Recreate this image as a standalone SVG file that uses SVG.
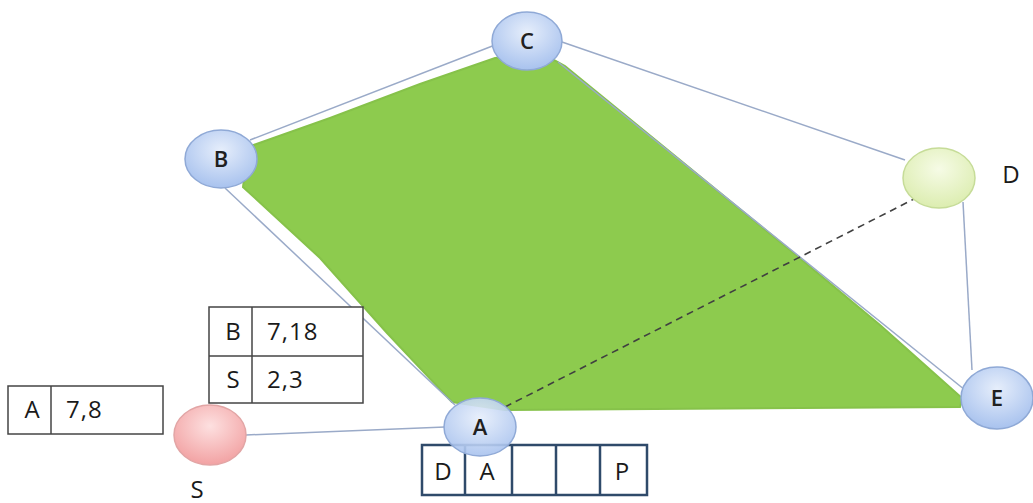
<svg xmlns="http://www.w3.org/2000/svg" width="1033" height="503" viewBox="0 0 1033 503">
<defs>
<radialGradient id="gb" cx="50%" cy="35%" r="65%"><stop offset="0" stop-color="#e6eefb"/><stop offset="1" stop-color="#a8c2ee"/></radialGradient>
<radialGradient id="gs" cx="50%" cy="35%" r="65%"><stop offset="0" stop-color="#fde0e0"/><stop offset="1" stop-color="#f2a2a3"/></radialGradient>
<radialGradient id="gd" cx="50%" cy="35%" r="65%"><stop offset="0" stop-color="#f6fbe6"/><stop offset="1" stop-color="#dcedb0"/></radialGradient>
<style>
.edge{stroke:#9aaac8;stroke-width:1.5;fill:none}
.dash{stroke:#404040;stroke-width:1.6;stroke-dasharray:7,5;fill:none}
.nb{fill:url(#gb);stroke:#8fa9d6;stroke-width:1.5}
.ns{fill:url(#gs);stroke:#e2a5a5;stroke-width:1.5}
.nd{fill:url(#gd);stroke:#c6dc98;stroke-width:1.5}
text{font-family:"Open Sans","Liberation Sans",sans-serif;font-size:24px;fill:#1a1a1a;text-anchor:middle}
.lbl{font-size:22px;font-weight:600;fill:#202020}
.v{text-anchor:start;letter-spacing:1px}
.tb{fill:#fff;stroke:#444;stroke-width:1.5}
.tl{stroke:#444;stroke-width:1.5}
.tn{fill:#fff;stroke:#2f4a6a;stroke-width:2.5}
.tnl{stroke:#2f4a6a;stroke-width:2.5}
</style>
</defs>
<rect width="1033" height="503" fill="#fff"/>
<g id="region">
<path d="M248,147 L330,118 L420,84 L495,58 L545,55 L565,66 L680,160 L790,250 L880,325 L962,398 L960,407 L505,410 L452,402 L387,333 L320,258 L243,187 Z" fill="#8dcb4e" stroke="#86c24a" stroke-width="2"/>
</g>
<g id="connectors">
<line class="edge" x1="250" y1="140" x2="495" y2="45"/>
<line class="edge" x1="562" y1="42" x2="905" y2="160"/>
<line class="edge" x1="963" y1="202" x2="972" y2="370"/>
<line class="edge" x1="225" y1="188" x2="455" y2="405"/>
<line class="edge" x1="246" y1="435" x2="445" y2="427"/>
<line class="edge" x1="558" y1="62" x2="965" y2="390"/>
<line class="dash" x1="505" y1="407" x2="918" y2="197"/>
</g>
<g id="node-C"><ellipse class="nb" cx="527" cy="41" rx="35" ry="29"/><text class="lbl" x="527" y="49">C</text></g>
<g id="node-B"><ellipse class="nb" cx="221" cy="159" rx="36" ry="29"/><text class="lbl" x="221" y="167">B</text></g>
<g id="node-D"><ellipse class="nd" cx="939" cy="178" rx="36" ry="30"/><text x="1011" y="183">D</text></g>
<g id="node-E"><ellipse class="nb" cx="997" cy="398" rx="36" ry="31"/><text class="lbl" x="997" y="406">E</text></g>
<g id="node-S"><ellipse class="ns" cx="210" cy="435" rx="36" ry="30"/><text x="197" y="498">S</text></g>
<g id="table-A">
<rect class="tb" x="8" y="386" width="155" height="48"/>
<line class="tl" x1="51" y1="386" x2="51" y2="434"/>
<text x="32" y="418">A</text><text class="v" x="66" y="418">7,8</text>
</g>
<g id="table-BS">
<rect class="tb" x="209" y="307" width="154" height="96"/>
<line class="tl" x1="252" y1="307" x2="252" y2="403"/>
<line class="tl" x1="209" y1="356" x2="363" y2="356"/>
<text x="233" y="340">B</text><text class="v" x="267" y="340">7,18</text>
<text x="233" y="388">S</text><text class="v" x="267" y="388">2,3</text>
</g>
<g id="table-P">
<rect class="tn" x="422" y="445" width="225" height="50"/>
<line class="tnl" x1="465" y1="445" x2="465" y2="495"/>
<line class="tnl" x1="512" y1="445" x2="512" y2="495"/>
<line class="tnl" x1="556" y1="445" x2="556" y2="495"/>
<line class="tnl" x1="600" y1="445" x2="600" y2="495"/>
<text x="443" y="480">D</text><text x="487" y="480">A</text><text x="622" y="480">P</text>
</g>
<g id="node-A"><ellipse class="nb" cx="480" cy="427" rx="36" ry="29" fill-opacity="0.9"/><text class="lbl" x="480" y="435">A</text></g>
</svg>
